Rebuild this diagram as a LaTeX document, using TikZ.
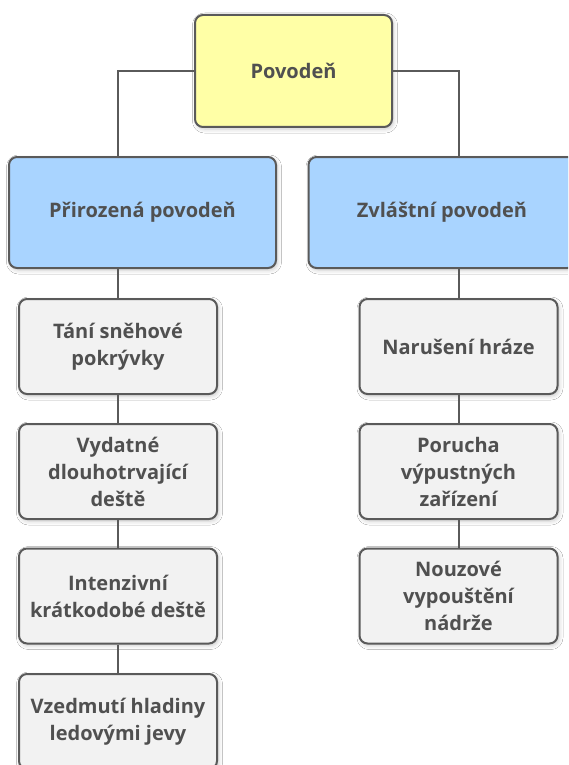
\documentclass[tikz,border=0pt]{standalone}
\usepackage{fontspec}
\setmainfont{Open Sans}
\usetikzlibrary{shadows.blur}
\definecolor{edgegray}{HTML}{5A5A5A}
\definecolor{txtgray}{HTML}{505050}
\definecolor{rootfill}{HTML}{FFFFA6}
\definecolor{catfill}{HTML}{A9D4FF}
\definecolor{leaffill}{HTML}{F2F2F2}
\begin{document}
\begin{tikzpicture}[x=1pt,y=-1pt,
  box/.style={draw=edgegray, line width=2pt, rounded corners=8pt,
    blur shadow={shadow xshift=1.5pt, shadow yshift=-2pt,
      shadow blur radius=4pt, shadow opacity=22},
    font=\bfseries\fontsize{20}{27}\selectfont, text=txtgray,
    align=center, inner sep=0pt},
  rootbox/.style={box, fill=rootfill, minimum width=197pt, minimum height=112pt},
  catbox/.style={box, fill=catfill, minimum width=267pt, minimum height=111pt},
  leafbox/.style={box, fill=leaffill, minimum width=198pt, minimum height=95pt},
  link/.style={draw=edgegray, line width=2pt}]
\fill[white] (0,0) rectangle (568,765);
\clip (0,0) rectangle (568,765);

% top level
\node[rootbox] (root) at (293.5,71) {Povodeň};

% categories
\node[catbox] (nat) at (142.5,212.5) {Přirozená povodeň};
\node[catbox] (spec) at (442,212.5) {Zvláštní povodeň};

% natural causes
\node[leafbox] (n1) at (118,346.5) {Tání sněhové\\pokrývky};
\node[leafbox] (n2) at (118,471.5) {Vydatné\\dlouhotrvající\\deště};
\node[leafbox] (n3) at (118,596) {Intenzivní\\krátkodobé deště};
\node[leafbox] (n4) at (118,721.5) {Vzedmutí hladiny\\ledovými jevy};

% special causes
\node[leafbox] (s1) at (458.5,346.5) {Narušení hráze};
\node[leafbox] (s2) at (458.5,471.5) {Porucha\\výpustných\\zařízení};
\node[leafbox] (s3) at (458.5,596) {Nouzové\\vypouštění\\nádrže};

% connectors
\draw[link] (root.west) -| (n1.north |- nat.north);
\draw[link] (root.east) -| (s1.north |- spec.north);
\draw[link] (nat.south -| n1.north) -- (n1.north);
\draw[link] (n1.south) -- (n2.north);
\draw[link] (n2.south) -- (n3.north);
\draw[link] (n3.south) -- (n4.north);
\draw[link] (spec.south -| s1.north) -- (s1.north);
\draw[link] (s1.south) -- (s2.north);
\draw[link] (s2.south) -- (s3.north);
\end{tikzpicture}
\end{document}
